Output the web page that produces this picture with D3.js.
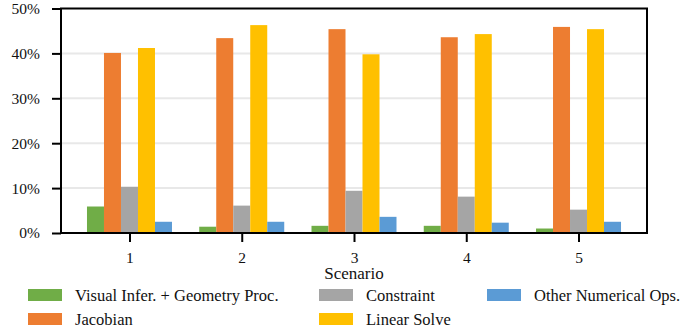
<!DOCTYPE html>
<html>
<head>
<meta charset="utf-8">
<script src="https://cdn.jsdelivr.net/npm/d3@7"></script>
</head>
<body style="margin:0; background:#fff">
<div id="container"></div>
<script>
// values (percent)
const scenarios = ["1", "2", "3", "4", "5"];
const seriesNames = ["Visual Infer. + Geometry Proc.", "Jacobian", "Constraint", "Linear Solve", "Other Numerical Ops."];
const seriesColors = ["#70ad47", "#ed7d31", "#a5a5a5", "#ffc000", "#5b9bd5"];
const visualInfer = [5.9, 1.4, 1.6, 1.6, 1.0];
const jacobian = [40.1, 43.4, 45.4, 43.6, 45.9];
const constraint = [10.3, 6.1, 9.4, 8.1, 5.2];
const linearSolve = [41.2, 46.3, 39.8, 44.3, 45.4];
const otherOps = [2.5, 2.5, 3.6, 2.3, 2.5];
const yTicks = [0, 10, 20, 30, 40, 50];

const width = 694, height = 331;
const marginLeft = 61, marginRight = 47, marginTop = 8.5, marginBottom = 98;
const barWidth = 17;

const seriesValues = [visualInfer, jacobian, constraint, linearSolve, otherOps];
const barOrder = [0, 1, 2, 3, 4];

function serifText(sel, size) {
  sel.attr("font-family", "Liberation Serif")
    .attr("font-size", size)
    .style("font-family", "'Liberation Serif'")
    .style("font-size", size + "px")
    .attr("fill", "#111");
}

const svg = d3.select("#container")
  .append("svg")
  .attr("width", width)
  .attr("height", height)
  .style("display", "block");

const x = d3.scalePoint()
  .domain(scenarios)
  .range([marginLeft, width - marginRight])
  .padding(0.61);

const y = d3.scaleLinear()
  .domain([0, 50])
  .range([height - marginBottom, marginTop]);

const inner = d3.scaleBand()
  .domain(barOrder)
  .range([-barWidth * 2.5, barWidth * 2.5]);

// grid lines
svg.append("g")
  .selectAll("line")
  .data(yTicks.slice(1, -1))
  .join("line")
  .attr("x1", marginLeft)
  .attr("x2", width - marginRight)
  .attr("y1", d => y(d))
  .attr("y2", d => y(d))
  .attr("stroke", "#e8e8e8")
  .attr("stroke-width", 2);

// bars
const groups = svg.append("g")
  .selectAll("g")
  .data(scenarios)
  .join("g")
  .attr("transform", d => `translate(${x(d)},0)`);

groups.selectAll("rect")
  .data((d, i) => barOrder.map(k => ({ k, v: seriesValues[k][i] })))
  .join("rect")
  .attr("x", d => inner(d.k))
  .attr("width", inner.bandwidth())
  .attr("y", d => y(d.v))
  .attr("height", d => y(0) - y(d.v))
  .attr("fill", d => seriesColors[d.k]);

// frame
svg.append("rect")
  .attr("x", marginLeft)
  .attr("y", marginTop)
  .attr("width", width - marginRight - marginLeft)
  .attr("height", y(0) - marginTop)
  .attr("fill", "none")
  .attr("stroke", "#000")
  .attr("stroke-width", 2);

// axes
const yAxis = svg.append("g")
  .attr("transform", `translate(${marginLeft},0)`)
  .call(d3.axisLeft(y).tickValues(yTicks).tickFormat(d => d + "%").tickSize(9).tickPadding(12));

const xAxis = svg.append("g")
  .attr("transform", `translate(0,${y(0)})`)
  .call(d3.axisBottom(x).tickSize(9).tickPadding(10));

[yAxis, xAxis].forEach(ax => {
  ax.attr("font-family", "Liberation Serif").attr("font-size", 15.5);
  ax.select(".domain").remove();
  ax.selectAll(".tick line").attr("stroke", "#000").attr("stroke-width", 2);
  ax.selectAll(".tick text").call(serifText, 15.5);
});

svg.append("text")
  .attr("x", x("3"))
  .attr("y", 279)
  .attr("text-anchor", "middle")
  .call(serifText, 17)
  .text("Scenario");

// legend: 3 columns, 2 rows
const legendCols = [28, 319, 487];
const legendRows = [289, 313];
const legendPos = [[0, 0], [0, 1], [1, 0], [1, 1], [2, 0]];

const legend = svg.append("g")
  .selectAll("g")
  .data(seriesNames)
  .join("g")
  .attr("transform", (d, i) => `translate(${legendCols[legendPos[i][0]]},${legendRows[legendPos[i][1]]})`);

legend.append("rect")
  .attr("width", 34)
  .attr("height", 12)
  .attr("fill", (d, i) => seriesColors[i]);

legend.append("text")
  .attr("x", 47)
  .attr("y", 12)
  .call(serifText, 16.5)
  .text(d => d);
</script>
</body>
</html>
